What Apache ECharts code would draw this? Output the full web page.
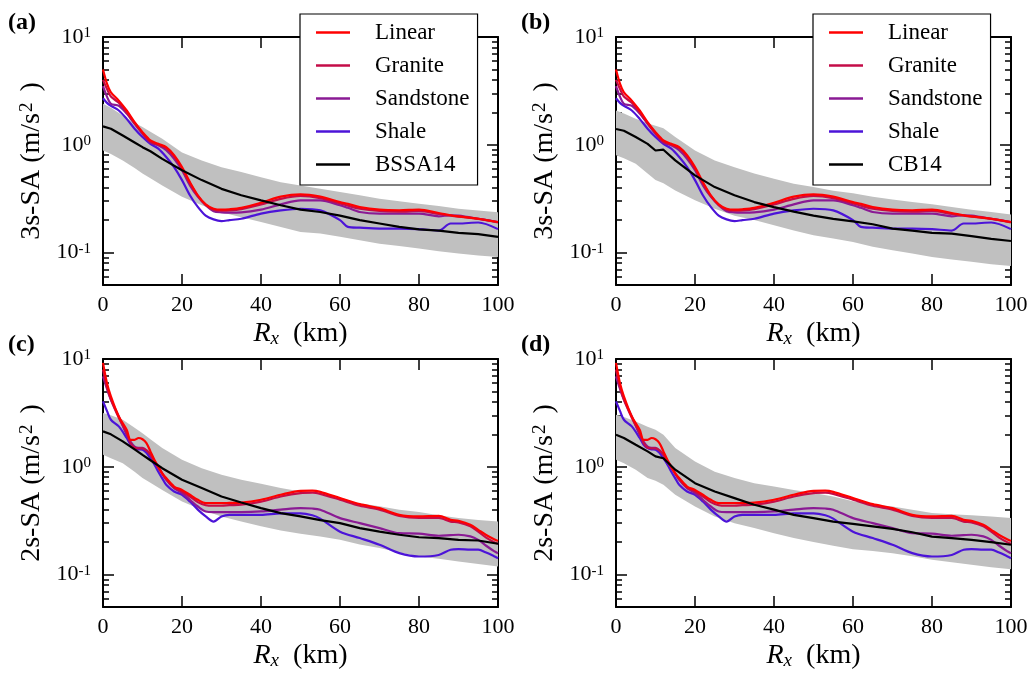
<!DOCTYPE html>
<html><head><meta charset="utf-8">
<script src="https://cdn.jsdelivr.net/npm/echarts@6/dist/echarts.min.js"></script>
<style>html,body{margin:0;padding:0;background:#fff}#c{width:1035px;height:674px}</style>
</head><body><div id="c"></div><script>
// ---------- data ----------
// simulated 3s-SA (panels a, b)
const R3 = [0,1,2,4,6,8,10,12,14,16,18,20,22,24,26,28,30,32,35,40,45,50,55,60,62,65,70,75,80,85,88,90,95,100];
const linear3    = [5.0,3.7,3.07,2.57,2.08,1.62,1.31,1.10,1.02,0.95,0.80,0.62,0.45,0.34,0.28,0.255,0.25,0.252,0.26,0.29,0.33,0.347,0.33,0.294,0.283,0.264,0.25,0.247,0.25,0.233,0.222,0.217,0.206,0.192];
const granite3   = [4.0,3.3,2.8,2.45,2.0,1.58,1.28,1.07,1.0,0.93,0.78,0.60,0.44,0.335,0.277,0.25,0.245,0.246,0.253,0.28,0.315,0.335,0.32,0.285,0.272,0.255,0.243,0.24,0.243,0.228,0.22,0.215,0.205,0.19];
const sandstone3 = [3.5,2.8,2.4,2.3,1.95,1.57,1.27,1.05,0.99,0.89,0.74,0.58,0.42,0.33,0.275,0.242,0.236,0.235,0.236,0.25,0.28,0.305,0.305,0.275,0.26,0.238,0.23,0.23,0.23,0.217,0.222,0.22,0.206,0.192];
const shale3     = [2.7,2.45,2.3,2.08,1.74,1.41,1.18,1.02,0.92,0.77,0.62,0.47,0.34,0.265,0.22,0.203,0.196,0.2,0.206,0.23,0.246,0.255,0.246,0.2,0.173,0.17,0.167,0.167,0.165,0.16,0.186,0.186,0.19,0.165];
// simulated 2s-SA (panels c, d)
const R2 = [0,1,2,4,6,7,8,9,10,11,12,13,14,15,16,18,20,22,24,26,28,30,32,35,40,45,50,53,55,60,65,70,75,80,85,88,90,93,95,97,99,100];
const linear2    = [9.2,6.0,4.5,2.93,2.2,1.78,1.78,1.85,1.8,1.66,1.39,1.16,1.0,0.87,0.785,0.656,0.61,0.55,0.494,0.46,0.46,0.46,0.462,0.465,0.494,0.55,0.598,0.6,0.585,0.512,0.45,0.413,0.358,0.346,0.35,0.322,0.315,0.29,0.26,0.233,0.213,0.205];
const granite2   = [8.0,5.5,4.2,2.85,2.05,1.65,1.5,1.48,1.48,1.42,1.3,1.12,0.98,0.86,0.77,0.64,0.59,0.53,0.47,0.44,0.435,0.435,0.44,0.445,0.475,0.53,0.57,0.575,0.56,0.495,0.435,0.4,0.35,0.335,0.335,0.31,0.305,0.28,0.25,0.22,0.2,0.193];
const sandstone2 = [6.9,5.3,4.2,2.93,1.98,1.7,1.54,1.5,1.5,1.42,1.29,1.13,1.0,0.87,0.757,0.634,0.57,0.494,0.428,0.385,0.38,0.38,0.38,0.38,0.385,0.4,0.413,0.41,0.4,0.334,0.3,0.27,0.242,0.24,0.229,0.232,0.234,0.226,0.21,0.185,0.165,0.158];
const shale2     = [4.04,3.3,2.73,2.37,1.85,1.6,1.49,1.45,1.44,1.35,1.2,1.05,0.9,0.78,0.68,0.59,0.55,0.476,0.4,0.346,0.31,0.346,0.358,0.358,0.358,0.37,0.37,0.355,0.33,0.25,0.218,0.189,0.158,0.147,0.152,0.17,0.172,0.17,0.17,0.16,0.148,0.142];
// GMPE medians and +/- sigma bands
const RG = [0,2,5,8,10,12,15,20,25,30,35,40,45,50,55,60,65,70,75,80,85,90,95,100];
const bssa3   = [1.48,1.41,1.22,1.05,0.95,0.87,0.74,0.58,0.47,0.39,0.34,0.305,0.275,0.25,0.238,0.22,0.2,0.186,0.173,0.164,0.16,0.152,0.148,0.14];
const bssa3Hi = [2.4,2.2,1.87,1.6,1.46,1.32,1.14,0.85,0.716,0.62,0.56,0.5,0.45,0.42,0.39,0.364,0.34,0.316,0.3,0.284,0.27,0.255,0.245,0.237];
const bssa3Lo = [0.885,0.82,0.716,0.61,0.54,0.49,0.42,0.33,0.275,0.237,0.213,0.192,0.173,0.155,0.15,0.14,0.13,0.121,0.115,0.109,0.103,0.098,0.094,0.091];
const cb3     = [1.4,1.35,1.18,1.02,0.885,0.9,0.716,0.52,0.405,0.34,0.294,0.264,0.24,0.22,0.205,0.195,0.183,0.167,0.16,0.152,0.15,0.142,0.134,0.128];
const cb3Hi   = [2.08,1.95,1.74,1.58,1.5,1.42,1.18,0.885,0.716,0.62,0.54,0.485,0.435,0.405,0.375,0.355,0.33,0.31,0.295,0.28,0.265,0.25,0.238,0.226];
const cb3Lo   = [0.8,0.75,0.667,0.54,0.47,0.44,0.377,0.305,0.255,0.22,0.2,0.179,0.16,0.145,0.135,0.125,0.113,0.105,0.098,0.091,0.086,0.082,0.078,0.075];
const bssa2   = [2.13,2.0,1.72,1.45,1.29,1.15,0.97,0.757,0.634,0.53,0.466,0.413,0.372,0.346,0.32,0.3,0.27,0.25,0.234,0.222,0.218,0.21,0.207,0.193];
const bssa2Hi = [3.15,3.0,2.73,2.3,2.05,1.8,1.49,1.16,0.97,0.843,0.757,0.695,0.634,0.59,0.55,0.5,0.46,0.43,0.4,0.38,0.355,0.334,0.32,0.31];
const bssa2Lo = [1.29,1.2,1.08,0.9,0.785,0.71,0.61,0.476,0.4,0.346,0.31,0.28,0.256,0.239,0.226,0.21,0.19,0.176,0.16,0.147,0.14,0.132,0.125,0.119];
const cb2     = [1.98,1.85,1.6,1.39,1.25,1.2,0.94,0.705,0.59,0.512,0.444,0.4,0.358,0.334,0.31,0.295,0.28,0.265,0.247,0.225,0.218,0.21,0.2,0.189];
const cb2Hi   = [3.04,2.9,2.63,2.35,2.2,1.98,1.49,1.12,0.9,0.785,0.705,0.656,0.61,0.57,0.53,0.48,0.45,0.428,0.4,0.372,0.362,0.355,0.345,0.334];
const cb2Lo   = [1.16,1.08,0.94,0.785,0.74,0.68,0.55,0.428,0.346,0.3,0.27,0.242,0.218,0.2,0.185,0.172,0.165,0.158,0.148,0.137,0.13,0.123,0.117,0.112];
// axis ticks / labels
const xTicks = [0,20,40,60,80,100];
const yMajor = [0.1,1,10];
const yMinor = [0.06,0.07,0.08,0.09,0.2,0.3,0.4,0.5,0.6,0.7,0.8,0.9,2,3,4,5,6,7,8,9];
const simNames  = ['Linear','Granite','Sandstone','Shale'];
const simColors = ['#ff0000','#c40c48','#8a1a94','#4c14d8'];
const panelLabels = ['(a)','(b)','(c)','(d)'];
const yNames = ['3s-SA','3s-SA','2s-SA','2s-SA'];
const gmpeNames = ['BSSA14','CB14','BSSA14','CB14'];

// ---------- build ----------
const FONT = 'Liberation Serif';
const panels = [
  {R:R3, sims:[linear3,granite3,sandstone3,shale3], med:bssa3, lo:bssa3Lo, hi:bssa3Hi, left:103, top:37},
  {R:R3, sims:[linear3,granite3,sandstone3,shale3], med:cb3,   lo:cb3Lo,   hi:cb3Hi,   left:616, top:37},
  {R:R2, sims:[linear2,granite2,sandstone2,shale2], med:bssa2, lo:bssa2Lo, hi:bssa2Hi, left:103, top:359},
  {R:R2, sims:[linear2,granite2,sandstone2,shale2], med:cb2,   lo:cb2Lo,   hi:cb2Hi,   left:616, top:359}
];
const W = 395, H = 248;
const grid = [], xAxis = [], yAxis = [], series = [], title = [], legend = [];
const axLine = {show:true, lineStyle:{color:'#000', width:2}};
panels.forEach((p, i) => {
  grid.push({left:p.left, top:p.top, width:W, height:H, containLabel:false});
  title.push({text:panelLabels[i], left:p.left - 95, top:p.top - 26, padding:0,
    textStyle:{fontFamily:FONT, fontWeight:'bold', fontSize:24, color:'#000'}});
  const xBase = {gridIndex:i, type:'value', min:0, max:100, interval:20, axisLine:axLine,
    splitLine:{show:false}, axisTick:{inside:true, length:11, lineStyle:{color:'#000', width:1.5}}};
  xAxis.push(Object.assign({}, xBase, {position:'bottom',
    axisLabel:{fontFamily:FONT, fontSize:22, color:'#000', margin:9},
    name:'{i|R}{s|x}{n|  (km)}', nameLocation:'middle', nameGap:35,
    nameTextStyle:{fontFamily:FONT, fontSize:28, color:'#000', rich:{
      i:{fontFamily:FONT, fontSize:28, fontStyle:'italic', color:'#000'},
      s:{fontFamily:FONT, fontSize:19, fontStyle:'italic', color:'#000', verticalAlign:'bottom', padding:[8,0,0,0]},
      n:{fontFamily:FONT, fontSize:28, color:'#000'}}}}));
  xAxis.push(Object.assign({}, xBase, {position:'top', axisLabel:{show:false}}));
  const yBase = {gridIndex:i, type:'log', logBase:10, min:0.05, max:10, splitLine:{show:false}, offset:0};
  yAxis.push(Object.assign({}, yBase, {position:'left', axisLine:axLine,
    axisTick:{inside:true, length:11, customValues:yMajor, lineStyle:{color:'#000', width:1.5}},
    axisLabel:{customValues:yMajor, margin:12, fontFamily:FONT, formatter:v => '{b|10}{s|' + Math.round(Math.log10(v)) + '}',
      rich:{b:{fontFamily:FONT, fontSize:22, color:'#000'},
            s:{fontFamily:FONT, fontSize:15, color:'#000', verticalAlign:'top'}}},
    name: yNames[i] + ' (m/s{sup|2}{n| )}', nameLocation:'middle', nameRotate:90, nameGap:57,
    nameTextStyle:{fontFamily:FONT, fontSize:28, color:'#000', rich:{
      sup:{fontFamily:FONT, fontSize:19, color:'#000', verticalAlign:'top', padding:[0,2,0,1]},
      n:{fontFamily:FONT, fontSize:28, color:'#000', padding:[0,0,0,2]}}}}));
  yAxis.push(Object.assign({}, yBase, {position:'left', axisLine:{show:false},
    axisTick:{inside:true, length:6, customValues:yMinor, lineStyle:{color:'#000', width:1.5}},
    axisLabel:{show:false}}));
  yAxis.push(Object.assign({}, yBase, {position:'right', axisLine:axLine,
    axisTick:{inside:true, length:11, customValues:yMajor, lineStyle:{color:'#000', width:1.5}},
    axisLabel:{show:false}}));
  yAxis.push(Object.assign({}, yBase, {position:'right', axisLine:{show:false},
    axisTick:{inside:true, length:6, customValues:yMinor, lineStyle:{color:'#000', width:1.5}},
    axisLabel:{show:false}}));
  const xi = 2*i, yi = 4*i;
  // sigma band
  const bandRows = RG.map((r,k) => [r, p.lo[k], p.hi[k]]);
  series.push({type:'custom', name:'band'+i, xAxisIndex:xi, yAxisIndex:yi, z:1, silent:true,
    data:bandRows, encode:{x:0, y:[1,2]},
    renderItem:(params, api) => {
      if (params.dataIndex !== 0) return null;
      const pts = [];
      bandRows.forEach(row => pts.push(api.coord([row[0], row[2]])));
      for (let k = bandRows.length-1; k >= 0; k--) pts.push(api.coord([bandRows[k][0], bandRows[k][1]]));
      return {type:'polygon', shape:{points:pts}, style:{fill:'#c0c0c0', stroke:null}};
    }});
  // simulations (drawn Shale first so Linear is on top)
  for (let s = 3; s >= 0; s--) {
    series.push({type:'line', name:simNames[s], xAxisIndex:xi, yAxisIndex:yi, z:3,
      data:p.R.map((r,k) => [r, p.sims[s][k]]), symbol:'none', smooth:0.3,
      lineStyle:{color:simColors[s], width:2.2}, itemStyle:{color:simColors[s]}});
  }
  series.push({type:'line', name:gmpeNames[i], xAxisIndex:xi, yAxisIndex:yi, z:4,
    data:RG.map((r,k) => [r, p.med[k]]), symbol:'none',
    lineStyle:{color:'#000', width:2.2}, itemStyle:{color:'#000'}});
  if (i < 2) {
    legend.push({data:simNames.concat([gmpeNames[i]]), orient:'vertical',
      left: i === 0 ? 300 : 813, top:14, padding:[7,8,9,16], itemGap:10,
      icon:'rect', itemWidth:34, itemHeight:2.5, backgroundColor:'#fff',
      borderColor:'#000', borderWidth:1.2, borderRadius:0, selectedMode:false, z:10,
      textStyle:{fontFamily:FONT, fontSize:23, color:'#000', lineHeight:23, padding:[0,0,0,20]}});
  }
});
const chart = echarts.init(document.getElementById('c'), null, {renderer:'canvas'});
chart.setOption({backgroundColor:'#fff', animation:false, textStyle:{fontFamily:FONT}, title, grid, xAxis, yAxis, series, legend});
</script></body></html>
